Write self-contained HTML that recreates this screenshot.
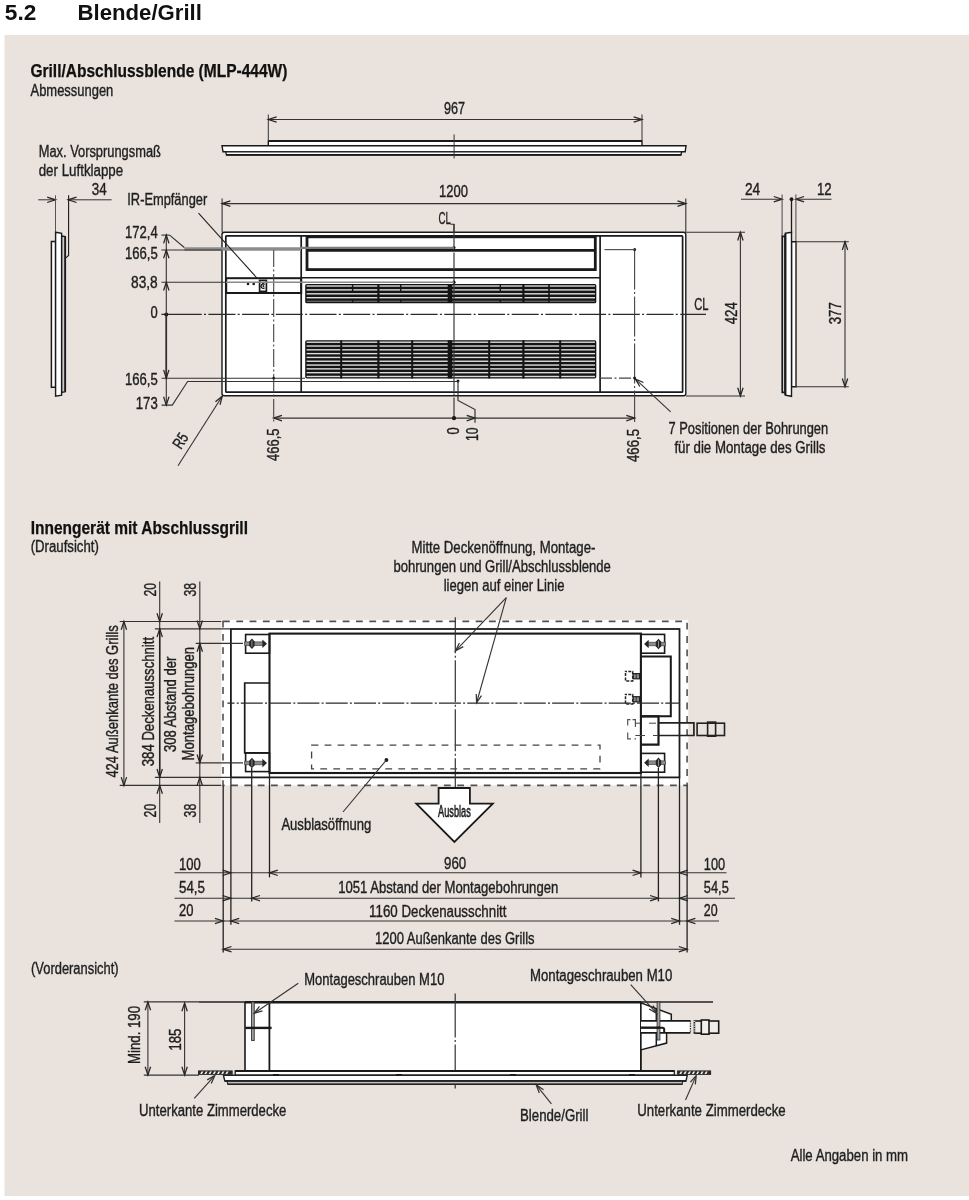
<!DOCTYPE html>
<html><head><meta charset="utf-8"><title>5.2 Blende/Grill</title>
<style>
html,body{margin:0;padding:0;background:#fff;}
body{width:969px;height:1200px;overflow:hidden;font-family:"Liberation Sans",sans-serif;}
svg{display:block;font-family:"Liberation Sans",sans-serif;will-change:transform;transform:translateZ(0);}
</style></head><body>
<svg width="969" height="1200" viewBox="0 0 969 1200">
<rect x="4.5" y="35" width="964.5" height="1161" fill="#e9e2dd"/>
<text x="4.8" y="20.2" font-size="22.5" font-weight="bold" textLength="31.5" lengthAdjust="spacingAndGlyphs" text-anchor="start" fill="#111">5.2</text>
<text x="77.6" y="20.2" font-size="22.5" font-weight="bold" textLength="124.3" lengthAdjust="spacingAndGlyphs" text-anchor="start" fill="#111">Blende/Grill</text>
<text x="30.4" y="76.6" font-size="17.6" font-weight="bold" textLength="257" lengthAdjust="spacingAndGlyphs" text-anchor="start" fill="#111" stroke="#111" stroke-width="0.25">Grill/Abschlussblende (MLP-444W)</text>
<text x="30.5" y="95.5" font-size="16" textLength="82.8" lengthAdjust="spacingAndGlyphs" text-anchor="start" fill="#1f1f1f" stroke="#1f1f1f" stroke-width="0.38">Abmessungen</text>
<polygon points="268.3,141.2 642,141.2 642,145.7 268.3,145.7" stroke="#1a1a1a" stroke-width="1.4" fill="#fff" />
<polygon points="222,145.7 686,145.7 685.2,151.8 223,151.8" stroke="#1a1a1a" stroke-width="1.4" fill="#fff" />
<polygon points="225.8,151.8 681.6,151.8 681,154.9 226.4,154.9" stroke="#1a1a1a" stroke-width="1.3" fill="#fff" />
<line x1="268.3" y1="141.0" x2="642" y2="141.0" stroke="#1a1a1a" stroke-width="1.8" />
<line x1="226" y1="154.9" x2="681.4" y2="154.9" stroke="#1a1a1a" stroke-width="1.6" />
<line x1="268.3" y1="114.5" x2="268.3" y2="141" stroke="#333" stroke-width="1" />
<line x1="642" y1="114.5" x2="642" y2="141" stroke="#333" stroke-width="1" />
<line x1="268.3" y1="119.5" x2="642" y2="119.5" stroke="#333" stroke-width="1" />
<polyline points="276.6,116.8 268.3,119.5 276.6,122.2" stroke="#262626" stroke-width="1.25" fill="none" stroke-linejoin="miter"/>
<polyline points="633.7,122.2 642,119.5 633.7,116.8" stroke="#262626" stroke-width="1.25" fill="none" stroke-linejoin="miter"/>
<text x="444" y="114.4" font-size="16" textLength="21" lengthAdjust="spacingAndGlyphs" text-anchor="start" fill="#1f1f1f" stroke="#1f1f1f" stroke-width="0.38">967</text>
<line x1="454.1" y1="134.4" x2="454.1" y2="158.4" stroke="#333" stroke-width="1" />
<text x="38.7" y="157" font-size="16" textLength="122.2" lengthAdjust="spacingAndGlyphs" text-anchor="start" fill="#1f1f1f" stroke="#1f1f1f" stroke-width="0.38">Max. Vorsprungsmaß</text>
<text x="38.7" y="175.5" font-size="16" textLength="84.5" lengthAdjust="spacingAndGlyphs" text-anchor="start" fill="#1f1f1f" stroke="#1f1f1f" stroke-width="0.38">der Luftklappe</text>
<text x="91.8" y="194.5" font-size="16" textLength="14.9" lengthAdjust="spacingAndGlyphs" text-anchor="start" fill="#1f1f1f" stroke="#1f1f1f" stroke-width="0.38">34</text>
<line x1="38.2" y1="199.8" x2="55.5" y2="199.8" stroke="#333" stroke-width="1" />
<line x1="68.2" y1="199.8" x2="111.6" y2="199.8" stroke="#333" stroke-width="1" />
<polyline points="47.2,202.5 55.5,199.8 47.2,197.1" stroke="#262626" stroke-width="1.25" fill="none" stroke-linejoin="miter"/>
<polyline points="76.5,197.1 68.2,199.8 76.5,202.5" stroke="#262626" stroke-width="1.25" fill="none" stroke-linejoin="miter"/>
<line x1="55.5" y1="195.3" x2="55.5" y2="232" stroke="#555" stroke-width="1" />
<polyline points="68.6,195.3 68.6,255.5 65.8,257.8" stroke="#1a1a1a" stroke-width="1.1" fill="none" />
<polygon points="51.4,241.6 55.6,241.6 55.6,387.2 51.4,387.2" stroke="#1a1a1a" stroke-width="1.5" fill="#fff" />
<polygon points="61.6,236 65.2,236.6 65.2,391.6 61.6,392.4" stroke="#1a1a1a" stroke-width="1.4" fill="#fafafa" />
<line x1="63.9" y1="237" x2="63.9" y2="391.5" stroke="#8a8a8a" stroke-width="0.7" />
<polygon points="55.6,232.3 61.6,233.4 61.6,395.2 55.6,396.2" stroke="#1a1a1a" stroke-width="1.4" fill="#fff" />
<line x1="65.2" y1="236.6" x2="65.2" y2="391.6" stroke="#1a1a1a" stroke-width="1.8" />
<text x="124.9" y="237.6" font-size="16" textLength="32.8" lengthAdjust="spacingAndGlyphs" text-anchor="start" fill="#1f1f1f" stroke="#1f1f1f" stroke-width="0.38">172,4</text>
<text x="124.9" y="259" font-size="16" textLength="32.8" lengthAdjust="spacingAndGlyphs" text-anchor="start" fill="#1f1f1f" stroke="#1f1f1f" stroke-width="0.38">166,5</text>
<text x="131" y="287.5" font-size="16" textLength="26.7" lengthAdjust="spacingAndGlyphs" text-anchor="start" fill="#1f1f1f" stroke="#1f1f1f" stroke-width="0.38">83,8</text>
<text x="150.5" y="318" font-size="16" textLength="7.2" lengthAdjust="spacingAndGlyphs" text-anchor="start" fill="#1f1f1f" stroke="#1f1f1f" stroke-width="0.38">0</text>
<text x="124.9" y="385.1" font-size="16" textLength="32.8" lengthAdjust="spacingAndGlyphs" text-anchor="start" fill="#1f1f1f" stroke="#1f1f1f" stroke-width="0.38">166,5</text>
<text x="135.8" y="409" font-size="16" textLength="21.9" lengthAdjust="spacingAndGlyphs" text-anchor="start" fill="#1f1f1f" stroke="#1f1f1f" stroke-width="0.38">173</text>
<rect x="222" y="232.3" width="463.8" height="163.5" rx="2.2" stroke="#1a1a1a" stroke-width="1.4" fill="#fff" />
<rect x="225.8" y="235.8" width="456.8" height="156.4" rx="0.8" stroke="#1a1a1a" stroke-width="1.7" fill="none" />
<line x1="301.2" y1="235.8" x2="301.2" y2="392.2" stroke="#1a1a1a" stroke-width="1.7" />
<line x1="600.1" y1="235.8" x2="600.1" y2="392.2" stroke="#1a1a1a" stroke-width="1.7" />
<rect x="307" y="236.8" width="288.3" height="32.8" rx="0" stroke="#1a1a1a" stroke-width="2.8" fill="none" />
<line x1="307" y1="250.4" x2="595.3" y2="250.4" stroke="#1a1a1a" stroke-width="2.6" />
<line x1="301.2" y1="277.8" x2="600.1" y2="277.8" stroke="#1a1a1a" stroke-width="1.6" />
<rect x="226.2" y="278.2" width="75" height="14.8" rx="0" stroke="#1a1a1a" stroke-width="2" fill="none" />
<circle cx="248" cy="283.9" r="1.3" fill="#1a1a1a"/>
<circle cx="253.7" cy="283.9" r="1.3" fill="#1a1a1a"/>
<rect x="259.6" y="280.4" width="6.8" height="11" rx="0" stroke="#1a1a1a" stroke-width="1.7" fill="#fff" />
<path d="M264.6,284.4 A2.2,2.2 0 1 0 264.6,287.8" stroke="#111" stroke-width="1.3" fill="none"/>
<circle cx="263.4" cy="286.1" r="1.0" fill="#1a1a1a"/>
<rect x="305.2" y="283.9" width="291.1" height="19.400000000000034" rx="1.6" stroke="none" stroke-width="0" fill="#141414" />
<rect x="306.6" y="285.30" width="288.4" height="1.4" fill="#dcdcdc"/>
<rect x="306.6" y="289.20" width="288.4" height="1.4" fill="#dcdcdc"/>
<rect x="306.6" y="293.10" width="288.4" height="1.4" fill="#dcdcdc"/>
<rect x="306.6" y="297.00" width="288.4" height="1.4" fill="#dcdcdc"/>
<rect x="306.6" y="300.60" width="288.4" height="1.4" fill="#606060"/>
<rect x="351.90" y="284" width="1.4" height="8" fill="#141414"/>
<rect x="351.90" y="299" width="1.4" height="4" fill="#141414"/>
<rect x="377.30" y="284" width="2.2" height="19" fill="#141414"/>
<rect x="400.00" y="284" width="1.4" height="8" fill="#141414"/>
<rect x="400.00" y="299" width="1.4" height="4" fill="#141414"/>
<rect x="447.70" y="284" width="4.6" height="19" fill="#141414"/>
<rect x="499.60" y="284" width="1.4" height="8" fill="#141414"/>
<rect x="499.60" y="299" width="1.4" height="4" fill="#141414"/>
<rect x="522.30" y="284" width="2.2" height="19" fill="#141414"/>
<rect x="548.20" y="284" width="1.6" height="19" fill="#141414"/>
<rect x="305.2" y="340.3" width="291.1" height="38.099999999999966" rx="1.6" stroke="none" stroke-width="0" fill="#141414" />
<rect x="306.6" y="341.50" width="288.4" height="1.4" fill="#dcdcdc"/>
<rect x="306.6" y="345.31" width="288.4" height="1.4" fill="#dcdcdc"/>
<rect x="306.6" y="349.12" width="288.4" height="1.4" fill="#dcdcdc"/>
<rect x="306.6" y="352.93" width="288.4" height="1.4" fill="#dcdcdc"/>
<rect x="306.6" y="356.74" width="288.4" height="1.4" fill="#dcdcdc"/>
<rect x="306.6" y="360.55" width="288.4" height="1.4" fill="#dcdcdc"/>
<rect x="306.6" y="364.36" width="288.4" height="1.4" fill="#dcdcdc"/>
<rect x="306.6" y="368.17" width="288.4" height="1.4" fill="#dcdcdc"/>
<rect x="306.6" y="371.98" width="288.4" height="1.4" fill="#dcdcdc"/>
<rect x="306.6" y="375.79" width="288.4" height="1.4" fill="#dcdcdc"/>
<rect x="340.20" y="340.3" width="2" height="38.099999999999966" fill="#141414"/>
<rect x="377.30" y="340.3" width="2.2" height="38.099999999999966" fill="#141414"/>
<rect x="411.20" y="340.3" width="2" height="38.099999999999966" fill="#141414"/>
<rect x="447.70" y="340.3" width="4.6" height="38.099999999999966" fill="#141414"/>
<rect x="488.20" y="340.3" width="2" height="38.099999999999966" fill="#141414"/>
<rect x="522.30" y="340.3" width="2.2" height="38.099999999999966" fill="#141414"/>
<rect x="559.20" y="340.3" width="2" height="38.099999999999966" fill="#141414"/>
<line x1="161.4" y1="314.4" x2="201.7" y2="314.4" stroke="#2a2a2a" stroke-width="1.1" />
<line x1="166.3" y1="314.4" x2="166.3" y2="378.2" stroke="#1a1a1a" stroke-width="1.6" />
<line x1="204" y1="314.4" x2="706" y2="314.4" stroke="#2a2a2a" stroke-width="1.1" stroke-dasharray="2 2.4 27 2.3"/>
<line x1="454" y1="224" x2="454" y2="418" stroke="#3a3a3a" stroke-width="1.2" stroke-dasharray="42 2.2 2 2.2" stroke-dashoffset="20"/>
<circle cx="166.3" cy="314.4" r="2.0" fill="#1a1a1a"/>
<line x1="273.7" y1="249" x2="273.7" y2="422" stroke="#444" stroke-width="1.1" stroke-dasharray="18 2.5 2 2.5"/>
<line x1="634.6" y1="249.6" x2="634.6" y2="422" stroke="#444" stroke-width="1.1" stroke-dasharray="40 2.5 2 2.5"/>
<circle cx="273.7" cy="249.4" r="1.4" fill="#1a1a1a"/>
<circle cx="273.7" cy="378.2" r="1.4" fill="#1a1a1a"/>
<circle cx="634.6" cy="249.6" r="1.5" fill="#1a1a1a"/>
<circle cx="634.6" cy="378.1" r="1.5" fill="#1a1a1a"/>
<circle cx="454" cy="247.5" r="1.5" fill="#1a1a1a"/>
<circle cx="454" cy="282.2" r="1.6" fill="#1a1a1a"/>
<circle cx="458" cy="381.1" r="1.5" fill="#1a1a1a"/>
<line x1="604.5" y1="249.6" x2="634.6" y2="249.6" stroke="#555" stroke-width="1.2" />
<line x1="600" y1="378.1" x2="634.6" y2="378.1" stroke="#444" stroke-width="1.1" stroke-dasharray="12 2.5 2 2.5"/>
<text x="438.6" y="223.8" font-size="16" textLength="12.4" lengthAdjust="spacingAndGlyphs" text-anchor="start" fill="#1f1f1f" stroke="#1f1f1f" stroke-width="0.38">CL</text>
<polyline points="450.5,224.2 454,224.2 454,232" stroke="#333" stroke-width="1.1" fill="none" />
<text x="694.2" y="310" font-size="16" textLength="14.3" lengthAdjust="spacingAndGlyphs" text-anchor="start" fill="#1f1f1f" stroke="#1f1f1f" stroke-width="0.38">CL</text>
<line x1="166.3" y1="235.1" x2="166.3" y2="405.1" stroke="#333" stroke-width="1.1" />
<line x1="184.3" y1="249" x2="301" y2="249" stroke="#8c8c8c" stroke-width="3.4" />
<line x1="301" y1="247.9" x2="454" y2="247.9" stroke="#7c7c7c" stroke-width="2.2" />
<line x1="161.4" y1="235.1" x2="169.6" y2="235.1" stroke="#333" stroke-width="1.1" />
<line x1="169.6" y1="235.1" x2="184.3" y2="247.5" stroke="#333" stroke-width="1.1" />
<line x1="161.4" y1="250" x2="222" y2="250" stroke="#333" stroke-width="1.1" />
<line x1="161.4" y1="282.2" x2="226" y2="282.2" stroke="#333" stroke-width="1.1" />
<line x1="226" y1="282.2" x2="454" y2="282.2" stroke="#8a8a8a" stroke-width="1.4" />
<line x1="161.6" y1="378.2" x2="305" y2="378.2" stroke="#333" stroke-width="1.1" />
<polyline points="161.6,405.1 172.3,405.1 187.6,381.5 458,381.5" stroke="#333" stroke-width="1.1" fill="none" />
<polyline points="169.0,243.4 166.3,235.1 163.6,243.4" stroke="#262626" stroke-width="1.25" fill="none" stroke-linejoin="miter"/>
<polyline points="169.0,258.3 166.3,250 163.6,258.3" stroke="#262626" stroke-width="1.25" fill="none" stroke-linejoin="miter"/>
<polyline points="169.0,290.5 166.3,282.2 163.6,290.5" stroke="#262626" stroke-width="1.25" fill="none" stroke-linejoin="miter"/>
<polyline points="163.6,369.9 166.3,378.2 169.0,369.9" stroke="#262626" stroke-width="1.25" fill="none" stroke-linejoin="miter"/>
<polyline points="163.6,396.8 166.3,405.1 169.0,396.8" stroke="#262626" stroke-width="1.25" fill="none" stroke-linejoin="miter"/>
<text x="127.3" y="205.4" font-size="16" textLength="79.9" lengthAdjust="spacingAndGlyphs" text-anchor="start" fill="#1f1f1f" stroke="#1f1f1f" stroke-width="0.38">IR-Empfänger</text>
<line x1="198.5" y1="213.2" x2="256.8" y2="277.8" stroke="#222" stroke-width="1.1" />
<line x1="178" y1="465.7" x2="222.2" y2="396.3" stroke="#333" stroke-width="1.1" />
<polyline points="220.02,404.75 222.2,396.3 215.46,401.85" stroke="#262626" stroke-width="1.25" fill="none" stroke-linejoin="miter"/>
<text font-size="16" fill="#1f1f1f" stroke="#1f1f1f" stroke-width="0.38" textLength="15" lengthAdjust="spacingAndGlyphs" transform="translate(180.9,450) rotate(-57.5)">R5</text>
<line x1="273.7" y1="418.1" x2="634.6" y2="418.1" stroke="#333" stroke-width="1.1" />
<polyline points="282.0,415.4 273.7,418.1 282.0,420.8" stroke="#262626" stroke-width="1.25" fill="none" stroke-linejoin="miter"/>
<polyline points="626.3,420.8 634.6,418.1 626.3,415.4" stroke="#262626" stroke-width="1.25" fill="none" stroke-linejoin="miter"/>
<polyline points="466.7,420.8 475,418.1 466.7,415.4" stroke="#262626" stroke-width="1.25" fill="none" stroke-linejoin="miter"/>
<circle cx="454" cy="418.1" r="2.2" fill="#1a1a1a"/>
<polyline points="458,381.1 458,400.5 475,409.5 475,422.7" stroke="#333" stroke-width="1.2" fill="none" />
<text font-size="16" fill="#1f1f1f" stroke="#1f1f1f" stroke-width="0.38" textLength="32.5" lengthAdjust="spacingAndGlyphs" transform="translate(279,461) rotate(-90)">466,5</text>
<text font-size="16" fill="#1f1f1f" stroke="#1f1f1f" stroke-width="0.38" textLength="7.2" lengthAdjust="spacingAndGlyphs" transform="translate(459.2,434.4) rotate(-90)">0</text>
<text font-size="16" fill="#1f1f1f" stroke="#1f1f1f" stroke-width="0.38" textLength="13.6" lengthAdjust="spacingAndGlyphs" transform="translate(478.2,441) rotate(-90)">10</text>
<text font-size="16" fill="#1f1f1f" stroke="#1f1f1f" stroke-width="0.38" textLength="33" lengthAdjust="spacingAndGlyphs" transform="translate(639.3,462) rotate(-90)">466,5</text>
<line x1="670.7" y1="411.8" x2="636" y2="379.6" stroke="#333" stroke-width="1.1" />
<polyline points="643.41,382.48 635.4,379 639.83,386.52" stroke="#262626" stroke-width="1.25" fill="none" stroke-linejoin="miter"/>
<text x="668.5" y="433.8" font-size="16" textLength="159.7" lengthAdjust="spacingAndGlyphs" text-anchor="start" fill="#1f1f1f" stroke="#1f1f1f" stroke-width="0.38">7 Positionen der Bohrungen</text>
<text x="674.4" y="452.6" font-size="16" textLength="151.1" lengthAdjust="spacingAndGlyphs" text-anchor="start" fill="#1f1f1f" stroke="#1f1f1f" stroke-width="0.38">für die Montage des Grills</text>
<line x1="222.1" y1="198.6" x2="222.1" y2="232" stroke="#333" stroke-width="1.1" />
<line x1="685.8" y1="198.6" x2="685.8" y2="232" stroke="#333" stroke-width="1.1" />
<line x1="222.1" y1="203.6" x2="685.8" y2="203.6" stroke="#333" stroke-width="1.1" />
<polyline points="230.4,200.9 222.1,203.6 230.4,206.3" stroke="#262626" stroke-width="1.25" fill="none" stroke-linejoin="miter"/>
<polyline points="677.5,206.3 685.8,203.6 677.5,200.9" stroke="#262626" stroke-width="1.25" fill="none" stroke-linejoin="miter"/>
<text x="439" y="197.2" font-size="16" textLength="28.9" lengthAdjust="spacingAndGlyphs" text-anchor="start" fill="#1f1f1f" stroke="#1f1f1f" stroke-width="0.38">1200</text>
<line x1="686" y1="232.2" x2="745" y2="232.2" stroke="#333" stroke-width="1.1" />
<line x1="686" y1="396" x2="745" y2="396" stroke="#333" stroke-width="1.1" />
<line x1="740.4" y1="232.2" x2="740.4" y2="396" stroke="#333" stroke-width="1.1" />
<polyline points="743.1,240.5 740.4,232.2 737.7,240.5" stroke="#262626" stroke-width="1.25" fill="none" stroke-linejoin="miter"/>
<polyline points="737.7,387.7 740.4,396 743.1,387.7" stroke="#262626" stroke-width="1.25" fill="none" stroke-linejoin="miter"/>
<text font-size="16" fill="#1f1f1f" stroke="#1f1f1f" stroke-width="0.38" textLength="21.9" lengthAdjust="spacingAndGlyphs" transform="translate(736.6,324.2) rotate(-90)">424</text>
<text x="745" y="195" font-size="16" textLength="15.2" lengthAdjust="spacingAndGlyphs" text-anchor="start" fill="#1f1f1f" stroke="#1f1f1f" stroke-width="0.38">24</text>
<text x="817" y="195" font-size="16" textLength="14.7" lengthAdjust="spacingAndGlyphs" text-anchor="start" fill="#1f1f1f" stroke="#1f1f1f" stroke-width="0.38">12</text>
<line x1="741" y1="199.2" x2="782.1" y2="199.2" stroke="#333" stroke-width="1.1" />
<line x1="795.6" y1="199.2" x2="831.5" y2="199.2" stroke="#333" stroke-width="1.1" />
<polyline points="773.8,201.9 782.1,199.2 773.8,196.5" stroke="#262626" stroke-width="1.25" fill="none" stroke-linejoin="miter"/>
<polyline points="804.1,196.5 795.8,199.2 804.1,201.9" stroke="#262626" stroke-width="1.25" fill="none" stroke-linejoin="miter"/>
<line x1="782.1" y1="194.6" x2="782.1" y2="236.2" stroke="#555" stroke-width="1.1" />
<line x1="795.9" y1="194.6" x2="795.9" y2="241.7" stroke="#555" stroke-width="1.1" />
<polygon points="782.3,236.4 785.3,236.4 785.3,392.4 782.3,392.4" stroke="#1a1a1a" stroke-width="1.8" fill="#fff" />
<polygon points="791.5,241.7 796,241.7 796,386.8 791.5,386.8" stroke="#1a1a1a" stroke-width="1.4" fill="#fff" />
<polygon points="785.3,233.3 791.5,232.4 791.5,396.3 785.3,395.2" stroke="#1a1a1a" stroke-width="1.4" fill="#fff" />
<line x1="785.4" y1="234" x2="785.4" y2="395" stroke="#1a1a1a" stroke-width="2.1" />
<line x1="791.5" y1="199.2" x2="791.5" y2="233" stroke="#1a1a1a" stroke-width="1.3" />
<circle cx="791.5" cy="199.2" r="1.9" fill="#1a1a1a"/>
<line x1="796" y1="241.7" x2="848.8" y2="241.7" stroke="#333" stroke-width="1.1" />
<line x1="796" y1="386.8" x2="848.8" y2="386.8" stroke="#333" stroke-width="1.1" />
<line x1="845" y1="241.7" x2="845" y2="386.8" stroke="#333" stroke-width="1.1" />
<polyline points="847.7,250.0 845,241.7 842.3,250.0" stroke="#262626" stroke-width="1.25" fill="none" stroke-linejoin="miter"/>
<polyline points="842.3,378.5 845,386.8 847.7,378.5" stroke="#262626" stroke-width="1.25" fill="none" stroke-linejoin="miter"/>
<text font-size="16" fill="#1f1f1f" stroke="#1f1f1f" stroke-width="0.38" textLength="21.9" lengthAdjust="spacingAndGlyphs" transform="translate(841.4,324.2) rotate(-90)">377</text>
<text x="30.7" y="534" font-size="17.6" font-weight="bold" textLength="217.3" lengthAdjust="spacingAndGlyphs" text-anchor="start" fill="#111" stroke="#111" stroke-width="0.25">Innengerät mit Abschlussgrill</text>
<text x="30.7" y="551.8" font-size="16" textLength="68.1" lengthAdjust="spacingAndGlyphs" text-anchor="start" fill="#1f1f1f" stroke="#1f1f1f" stroke-width="0.38">(Draufsicht)</text>
<text x="411.5" y="552.7" font-size="16" textLength="183.9" lengthAdjust="spacingAndGlyphs" text-anchor="start" fill="#1f1f1f" stroke="#1f1f1f" stroke-width="0.38">Mitte Deckenöffnung, Montage-</text>
<text x="393.4" y="571.8" font-size="16" textLength="217.5" lengthAdjust="spacingAndGlyphs" text-anchor="start" fill="#1f1f1f" stroke="#1f1f1f" stroke-width="0.38">bohrungen und Grill/Abschlussblende</text>
<text x="443.7" y="590.6" font-size="16" textLength="120.8" lengthAdjust="spacingAndGlyphs" text-anchor="start" fill="#1f1f1f" stroke="#1f1f1f" stroke-width="0.38">liegen auf einer Linie</text>
<rect x="221.3" y="619.8" width="467" height="165.6" fill="#fff"/>
<rect x="223" y="621.4" width="464.1" height="164" rx="0" stroke="#505050" stroke-width="1.6" fill="none" stroke-dasharray="6.8 6.5"/>
<rect x="230.9" y="629" width="448.6" height="148.4" rx="0" stroke="#1c1c1c" stroke-width="1.8" fill="none" />
<rect x="269.5" y="633.6" width="371.4" height="139.4" rx="0" stroke="#1a1a1a" stroke-width="2.1" fill="none" />
<rect x="245.6" y="634.5" width="23.9" height="18.7" rx="0" stroke="#1a1a1a" stroke-width="1.6" fill="none" />
<rect x="245.6" y="752.9" width="23.9" height="18.7" rx="0" stroke="#1a1a1a" stroke-width="1.6" fill="none" />
<rect x="640.9" y="634.4" width="23.7" height="18.8" rx="0" stroke="#1a1a1a" stroke-width="1.6" fill="none" />
<rect x="640.9" y="753.4" width="23.7" height="18.8" rx="0" stroke="#1a1a1a" stroke-width="1.6" fill="none" />
<polyline points="269.5,683 244.7,683 244.7,752.8 269.5,752.8" stroke="#1a1a1a" stroke-width="1.7" fill="none" />
<polyline points="640.9,656.5 670.8,656.5 670.8,716.3 640.9,716.3" stroke="#1a1a1a" stroke-width="2" fill="none" />
<polyline points="640.9,716.3 658.5,716.3 658.5,744.6 640.9,744.6" stroke="#1a1a1a" stroke-width="2.2" fill="none" />
<rect x="244.7" y="641.9000000000001" width="19.30000000000001" height="3.6" fill="#8c8c8c" stroke="#444" stroke-width="0.7"/>
<polygon points="251.9,638.4000000000001 254.6,641.4000000000001 254.6,646.0 251.9,649.0 249.20000000000002,646.0 249.20000000000002,641.4000000000001" fill="#262626"/>
<rect x="251.45000000000002" y="640.5" width="0.9" height="6.4" fill="#9a9a9a"/>
<polygon points="267,643.7 262.4,639.5 262.4,647.9000000000001" fill="#262626"/>
<rect x="244.7" y="761.2" width="19.30000000000001" height="3.6" fill="#8c8c8c" stroke="#444" stroke-width="0.7"/>
<polygon points="251.9,757.7 254.6,760.7 254.6,765.3 251.9,768.3 249.20000000000002,765.3 249.20000000000002,760.7" fill="#262626"/>
<rect x="251.45000000000002" y="759.8" width="0.9" height="6.4" fill="#9a9a9a"/>
<polygon points="267,763 262.4,758.8 262.4,767.2" fill="#262626"/>
<rect x="647.1" y="642.2" width="18.399999999999977" height="3.6" fill="#8c8c8c" stroke="#444" stroke-width="0.7"/>
<polygon points="658.5,638.7 661.2,641.7 661.2,646.3 658.5,649.3 655.8,646.3 655.8,641.7" fill="#262626"/>
<rect x="658.05" y="640.8" width="0.9" height="6.4" fill="#9a9a9a"/>
<polygon points="644.1,644 648.7,639.8 648.7,648.2" fill="#262626"/>
<rect x="647.1" y="760.9000000000001" width="18.399999999999977" height="3.6" fill="#8c8c8c" stroke="#444" stroke-width="0.7"/>
<polygon points="658.5,757.4000000000001 661.2,760.4000000000001 661.2,765.0 658.5,768.0 655.8,765.0 655.8,760.4000000000001" fill="#262626"/>
<rect x="658.05" y="759.5" width="0.9" height="6.4" fill="#9a9a9a"/>
<polygon points="644.1,762.7 648.7,758.5 648.7,766.9000000000001" fill="#262626"/>
<rect x="625.5" y="671.5" width="7.2" height="9.4" rx="0" stroke="#222" stroke-width="1.5" fill="none" stroke-dasharray="3 1.3" stroke-dashoffset="1.5"/>
<rect x="633.2" y="673.6" width="6.4" height="5.2" rx="0" stroke="#222" stroke-width="1.2" fill="#8a8a8a" />
<line x1="636.2" y1="673.6" x2="636.2" y2="678.8000000000001" stroke="#222" stroke-width="0.8" />
<rect x="625.5" y="694.5999999999999" width="7.2" height="9.4" rx="0" stroke="#222" stroke-width="1.5" fill="none" stroke-dasharray="3 1.3" stroke-dashoffset="1.5"/>
<rect x="633.2" y="696.6999999999999" width="6.4" height="5.2" rx="0" stroke="#222" stroke-width="1.2" fill="#8a8a8a" />
<line x1="636.2" y1="696.6999999999999" x2="636.2" y2="701.9" stroke="#222" stroke-width="0.8" />
<polyline points="630.5,719.6 627.7,719.6 627.7,725.5" stroke="#555" stroke-width="1.2" fill="none" />
<polyline points="632.5,719.6 635.4,719.6 635.4,727" stroke="#555" stroke-width="1.2" fill="none" />
<polyline points="627.7,732.5 627.7,738.8 631,738.8" stroke="#555" stroke-width="1.2" fill="none" />
<line x1="634.5" y1="738.8" x2="636" y2="738.8" stroke="#555" stroke-width="1.2" />
<line x1="635.4" y1="723.2" x2="640" y2="723.2" stroke="#444" stroke-width="1" />
<line x1="635.4" y1="735.5" x2="645" y2="735.5" stroke="#444" stroke-width="1" />
<line x1="649" y1="723.2" x2="656" y2="723.2" stroke="#444" stroke-width="1" />
<line x1="653" y1="735.5" x2="658" y2="735.5" stroke="#444" stroke-width="1" />
<polyline points="658.5,722.9 693.9,722.9 693.9,735.5 658.5,735.5" stroke="#222" stroke-width="1.7" fill="none" />
<rect x="697.1" y="723.2" width="27.4" height="12.3" rx="0" stroke="#222" stroke-width="1.6" fill="none" />
<rect x="707.6" y="722.1" width="8" height="14.1" rx="0" stroke="#222" stroke-width="1.6" fill="none" />
<line x1="227.4" y1="703.1" x2="680" y2="703.1" stroke="#2a2a2a" stroke-width="1.1" stroke-dasharray="22 2.2 2 2.1" stroke-dashoffset="14.9"/>
<line x1="455.3" y1="617.2" x2="455.3" y2="787" stroke="#333" stroke-width="1.2" stroke-dasharray="42 2.5 2 2.5" stroke-dashoffset="6"/>
<line x1="450.7" y1="773" x2="459.6" y2="773" stroke="#1a1a1a" stroke-width="2.2" />
<rect x="311.6" y="745.2" width="288.4" height="23.7" rx="0" stroke="#444" stroke-width="1.3" fill="none" stroke-dasharray="6.8 6.2"/>
<circle cx="386.4" cy="760" r="1.9" fill="#1a1a1a"/>
<line x1="343" y1="812" x2="386.4" y2="760" stroke="#333" stroke-width="1.1" />
<text x="281.4" y="829.7" font-size="16" textLength="89.8" lengthAdjust="spacingAndGlyphs" text-anchor="start" fill="#1f1f1f" stroke="#1f1f1f" stroke-width="0.38">Ausblasöffnung</text>
<line x1="506.3" y1="597.7" x2="456.2" y2="650.2" stroke="#333" stroke-width="1.1" />
<polyline points="459.38,642.93 455.6,650.8 463.29,646.66" stroke="#333" stroke-width="1.25" fill="none" stroke-linejoin="miter"/>
<line x1="506.3" y1="597.7" x2="476.8" y2="702" stroke="#333" stroke-width="1.1" />
<polyline points="476.26,694.08 476.6,702.8 481.46,695.55" stroke="#333" stroke-width="1.25" fill="none" stroke-linejoin="miter"/>
<polygon points="438.6,788 469.9,788 469.9,803.7 492.8,803.7 454.4,842 416.3,803.7 438.6,803.7" stroke="#1a1a1a" stroke-width="1.8" fill="#fff" stroke-linejoin="miter"/>
<text x="438.1" y="816.7" font-size="16" textLength="32.7" lengthAdjust="spacingAndGlyphs" text-anchor="start" fill="#1f1f1f" stroke="#1f1f1f" stroke-width="0.6">Ausblas</text>
<line x1="119.7" y1="621.5" x2="221.3" y2="621.5" stroke="#333" stroke-width="1.2" />
<line x1="119.7" y1="785.4" x2="221.3" y2="785.4" stroke="#333" stroke-width="1.2" />
<line x1="154.9" y1="628.8" x2="231" y2="628.8" stroke="#333" stroke-width="1.2" />
<line x1="154.9" y1="777.3" x2="231" y2="777.3" stroke="#333" stroke-width="1.2" />
<line x1="195.7" y1="643.4" x2="243" y2="643.4" stroke="#333" stroke-width="1.2" />
<line x1="195.7" y1="762.8" x2="243" y2="762.8" stroke="#333" stroke-width="1.2" />
<line x1="123.9" y1="621.5" x2="123.9" y2="785.4" stroke="#333" stroke-width="1.1" />
<polyline points="126.6,629.8 123.9,621.5 121.2,629.8" stroke="#262626" stroke-width="1.25" fill="none" stroke-linejoin="miter"/>
<polyline points="121.2,777.1 123.9,785.4 126.6,777.1" stroke="#262626" stroke-width="1.25" fill="none" stroke-linejoin="miter"/>
<line x1="159.7" y1="581.6" x2="159.7" y2="823" stroke="#333" stroke-width="1.1" />
<line x1="159.7" y1="628.8" x2="159.7" y2="777.3" stroke="#222" stroke-width="1.5" />
<polyline points="157.0,613.2 159.7,621.5 162.4,613.2" stroke="#262626" stroke-width="1.25" fill="none" stroke-linejoin="miter"/>
<polyline points="162.4,637.1 159.7,628.8 157.0,637.1" stroke="#262626" stroke-width="1.25" fill="none" stroke-linejoin="miter"/>
<polyline points="157.0,769.0 159.7,777.3 162.4,769.0" stroke="#262626" stroke-width="1.25" fill="none" stroke-linejoin="miter"/>
<polyline points="162.4,793.7 159.7,785.4 157.0,793.7" stroke="#262626" stroke-width="1.25" fill="none" stroke-linejoin="miter"/>
<line x1="199.8" y1="581.6" x2="199.8" y2="823" stroke="#333" stroke-width="1.1" />
<line x1="199.8" y1="643.4" x2="199.8" y2="762.8" stroke="#222" stroke-width="1.4" />
<polyline points="197.1,620.5 199.8,628.8 202.5,620.5" stroke="#262626" stroke-width="1.25" fill="none" stroke-linejoin="miter"/>
<polyline points="202.5,651.7 199.8,643.4 197.1,651.7" stroke="#262626" stroke-width="1.25" fill="none" stroke-linejoin="miter"/>
<polyline points="197.1,754.5 199.8,762.8 202.5,754.5" stroke="#262626" stroke-width="1.25" fill="none" stroke-linejoin="miter"/>
<polyline points="202.5,785.6 199.8,777.3 197.1,785.6" stroke="#262626" stroke-width="1.25" fill="none" stroke-linejoin="miter"/>
<text font-size="16" fill="#1f1f1f" stroke="#1f1f1f" stroke-width="0.38" textLength="13.6" lengthAdjust="spacingAndGlyphs" transform="translate(156,596.6) rotate(-90)">20</text>
<text font-size="16" fill="#1f1f1f" stroke="#1f1f1f" stroke-width="0.38" textLength="13.6" lengthAdjust="spacingAndGlyphs" transform="translate(196.2,596.6) rotate(-90)">38</text>
<text font-size="16" fill="#1f1f1f" stroke="#1f1f1f" stroke-width="0.38" textLength="13.6" lengthAdjust="spacingAndGlyphs" transform="translate(156,817.4) rotate(-90)">20</text>
<text font-size="16" fill="#1f1f1f" stroke="#1f1f1f" stroke-width="0.38" textLength="13.6" lengthAdjust="spacingAndGlyphs" transform="translate(196.2,817.4) rotate(-90)">38</text>
<text font-size="16" fill="#1f1f1f" stroke="#1f1f1f" stroke-width="0.38" textLength="152.3" lengthAdjust="spacingAndGlyphs" transform="translate(118.1,777.6) rotate(-90)">424 Außenkante des Grills</text>
<text font-size="16" fill="#1f1f1f" stroke="#1f1f1f" stroke-width="0.38" textLength="129.3" lengthAdjust="spacingAndGlyphs" transform="translate(154.2,766.2) rotate(-90)">384 Deckenausschnitt</text>
<text font-size="16" fill="#1f1f1f" stroke="#1f1f1f" stroke-width="0.38" textLength="95.3" lengthAdjust="spacingAndGlyphs" transform="translate(175.6,752) rotate(-90)">308 Abstand der</text>
<text font-size="16" fill="#1f1f1f" stroke="#1f1f1f" stroke-width="0.38" textLength="113.4" lengthAdjust="spacingAndGlyphs" transform="translate(194.4,760.4) rotate(-90)">Montagebohrungen</text>
<line x1="223.2" y1="785.4" x2="223.2" y2="952.6" stroke="#222" stroke-width="1.3" />
<line x1="230.9" y1="777.4" x2="230.9" y2="924.8" stroke="#222" stroke-width="1.3" />
<line x1="251.7" y1="768" x2="251.7" y2="901.4" stroke="#222" stroke-width="1.3" />
<line x1="269.5" y1="773" x2="269.5" y2="877.4" stroke="#222" stroke-width="1.3" />
<line x1="640.9" y1="773" x2="640.9" y2="877.4" stroke="#222" stroke-width="1.3" />
<line x1="658.4" y1="768" x2="658.4" y2="901.4" stroke="#222" stroke-width="1.3" />
<line x1="679.5" y1="777.4" x2="679.5" y2="924.8" stroke="#222" stroke-width="1.3" />
<line x1="687.1" y1="785.4" x2="687.1" y2="952.6" stroke="#222" stroke-width="1.3" />
<line x1="174.5" y1="872.8" x2="726.5" y2="872.8" stroke="#333" stroke-width="1.1" />
<line x1="174.5" y1="898.2" x2="735" y2="898.2" stroke="#333" stroke-width="1.1" />
<line x1="174.5" y1="921" x2="719" y2="921" stroke="#333" stroke-width="1.1" />
<line x1="223.2" y1="949.2" x2="687.1" y2="949.2" stroke="#333" stroke-width="1.1" />
<polyline points="222.6,875.5 230.9,872.8 222.6,870.1" stroke="#262626" stroke-width="1.25" fill="none" stroke-linejoin="miter"/>
<polyline points="277.8,870.1 269.5,872.8 277.8,875.5" stroke="#262626" stroke-width="1.25" fill="none" stroke-linejoin="miter"/>
<polyline points="632.6,875.5 640.9,872.8 632.6,870.1" stroke="#262626" stroke-width="1.25" fill="none" stroke-linejoin="miter"/>
<polyline points="687.8,870.1 679.5,872.8 687.8,875.5" stroke="#262626" stroke-width="1.25" fill="none" stroke-linejoin="miter"/>
<polyline points="222.6,900.9 230.9,898.2 222.6,895.5" stroke="#262626" stroke-width="1.25" fill="none" stroke-linejoin="miter"/>
<polyline points="260.0,895.5 251.7,898.2 260.0,900.9" stroke="#262626" stroke-width="1.25" fill="none" stroke-linejoin="miter"/>
<polyline points="650.1,900.9 658.4,898.2 650.1,895.5" stroke="#262626" stroke-width="1.25" fill="none" stroke-linejoin="miter"/>
<polyline points="687.8,895.5 679.5,898.2 687.8,900.9" stroke="#262626" stroke-width="1.25" fill="none" stroke-linejoin="miter"/>
<polyline points="214.9,923.7 223.2,921 214.9,918.3" stroke="#262626" stroke-width="1.25" fill="none" stroke-linejoin="miter"/>
<polyline points="239.2,918.3 230.9,921 239.2,923.7" stroke="#262626" stroke-width="1.25" fill="none" stroke-linejoin="miter"/>
<polyline points="671.2,923.7 679.5,921 671.2,918.3" stroke="#262626" stroke-width="1.25" fill="none" stroke-linejoin="miter"/>
<polyline points="695.4,918.3 687.1,921 695.4,923.7" stroke="#262626" stroke-width="1.25" fill="none" stroke-linejoin="miter"/>
<polyline points="231.5,946.5 223.2,949.2 231.5,951.9" stroke="#262626" stroke-width="1.25" fill="none" stroke-linejoin="miter"/>
<polyline points="678.8,951.9 687.1,949.2 678.8,946.5" stroke="#262626" stroke-width="1.25" fill="none" stroke-linejoin="miter"/>
<text x="179" y="870.4" font-size="16" textLength="21.8" lengthAdjust="spacingAndGlyphs" text-anchor="start" fill="#1f1f1f" stroke="#1f1f1f" stroke-width="0.38">100</text>
<text x="179" y="892.9" font-size="16" textLength="26" lengthAdjust="spacingAndGlyphs" text-anchor="start" fill="#1f1f1f" stroke="#1f1f1f" stroke-width="0.38">54,5</text>
<text x="179" y="916.3" font-size="16" textLength="14.4" lengthAdjust="spacingAndGlyphs" text-anchor="start" fill="#1f1f1f" stroke="#1f1f1f" stroke-width="0.38">20</text>
<text x="703.8" y="870.4" font-size="16" textLength="21.3" lengthAdjust="spacingAndGlyphs" text-anchor="start" fill="#1f1f1f" stroke="#1f1f1f" stroke-width="0.38">100</text>
<text x="703.8" y="892.9" font-size="16" textLength="25" lengthAdjust="spacingAndGlyphs" text-anchor="start" fill="#1f1f1f" stroke="#1f1f1f" stroke-width="0.38">54,5</text>
<text x="703.8" y="916.3" font-size="16" textLength="13.8" lengthAdjust="spacingAndGlyphs" text-anchor="start" fill="#1f1f1f" stroke="#1f1f1f" stroke-width="0.38">20</text>
<text x="444" y="869.4" font-size="16" textLength="22.2" lengthAdjust="spacingAndGlyphs" text-anchor="start" fill="#1f1f1f" stroke="#1f1f1f" stroke-width="0.38">960</text>
<text x="338.2" y="892.9" font-size="16" textLength="220.1" lengthAdjust="spacingAndGlyphs" text-anchor="start" fill="#1f1f1f" stroke="#1f1f1f" stroke-width="0.38">1051 Abstand der Montagebohrungen</text>
<text x="369.1" y="916.5" font-size="16" textLength="137.4" lengthAdjust="spacingAndGlyphs" text-anchor="start" fill="#1f1f1f" stroke="#1f1f1f" stroke-width="0.38">1160 Deckenausschnitt</text>
<text x="375" y="943.5" font-size="16" textLength="159.6" lengthAdjust="spacingAndGlyphs" text-anchor="start" fill="#1f1f1f" stroke="#1f1f1f" stroke-width="0.38">1200 Außenkante des Grills</text>
<text x="31" y="974" font-size="16" textLength="87.6" lengthAdjust="spacingAndGlyphs" text-anchor="start" fill="#1f1f1f" stroke="#1f1f1f" stroke-width="0.38">(Vorderansicht)</text>
<text x="304.3" y="985" font-size="16" textLength="140.1" lengthAdjust="spacingAndGlyphs" text-anchor="start" fill="#1f1f1f" stroke="#1f1f1f" stroke-width="0.38">Montageschrauben M10</text>
<text x="530" y="981" font-size="16" textLength="142.3" lengthAdjust="spacingAndGlyphs" text-anchor="start" fill="#1f1f1f" stroke="#1f1f1f" stroke-width="0.38">Montageschrauben M10</text>
<text x="139.1" y="1116.2" font-size="16" textLength="147.2" lengthAdjust="spacingAndGlyphs" text-anchor="start" fill="#1f1f1f" stroke="#1f1f1f" stroke-width="0.38">Unterkante Zimmerdecke</text>
<text x="637.3" y="1116.3" font-size="16" textLength="148.4" lengthAdjust="spacingAndGlyphs" text-anchor="start" fill="#1f1f1f" stroke="#1f1f1f" stroke-width="0.38">Unterkante Zimmerdecke</text>
<text x="520" y="1121.3" font-size="16" textLength="68.4" lengthAdjust="spacingAndGlyphs" text-anchor="start" fill="#1f1f1f" stroke="#1f1f1f" stroke-width="0.38">Blende/Grill</text>
<text x="790.7" y="1160.8" font-size="16" textLength="117.4" lengthAdjust="spacingAndGlyphs" text-anchor="start" fill="#1f1f1f" stroke="#1f1f1f" stroke-width="0.38">Alle Angaben in mm</text>
<line x1="143.8" y1="1001.9" x2="199" y2="1001.9" stroke="#333" stroke-width="1.1" />
<line x1="143.8" y1="1075.1" x2="199" y2="1075.1" stroke="#333" stroke-width="1.1" />
<line x1="147.9" y1="1001.9" x2="147.9" y2="1075.1" stroke="#333" stroke-width="1.1" />
<polyline points="150.6,1010.2 147.9,1001.9 145.2,1010.2" stroke="#262626" stroke-width="1.25" fill="none" stroke-linejoin="miter"/>
<polyline points="145.2,1066.8 147.9,1075.1 150.6,1066.8" stroke="#262626" stroke-width="1.25" fill="none" stroke-linejoin="miter"/>
<line x1="184.6" y1="1003" x2="184.6" y2="1075.1" stroke="#333" stroke-width="1.1" />
<polyline points="187.3,1011.3 184.6,1003 181.9,1011.3" stroke="#262626" stroke-width="1.25" fill="none" stroke-linejoin="miter"/>
<polyline points="181.9,1066.8 184.6,1075.1 187.3,1066.8" stroke="#262626" stroke-width="1.25" fill="none" stroke-linejoin="miter"/>
<text font-size="16" fill="#1f1f1f" stroke="#1f1f1f" stroke-width="0.38" textLength="58" lengthAdjust="spacingAndGlyphs" transform="translate(139.5,1064) rotate(-90)">Mind. 190</text>
<text font-size="16" fill="#1f1f1f" stroke="#1f1f1f" stroke-width="0.38" textLength="21.9" lengthAdjust="spacingAndGlyphs" transform="translate(180.9,1050.6) rotate(-90)">185</text>
<line x1="199" y1="1002" x2="713" y2="1002" stroke="#222" stroke-width="1.5" />
<rect x="245" y="1002" width="396" height="69" fill="#fff"/>
<line x1="245" y1="1002.2" x2="641" y2="1002.2" stroke="#1a1a1a" stroke-width="2.6" />
<line x1="245" y1="1002" x2="245" y2="1071" stroke="#1a1a1a" stroke-width="1.6" />
<line x1="269.4" y1="1002" x2="269.4" y2="1071" stroke="#1a1a1a" stroke-width="1.8" />
<line x1="640.9" y1="1002" x2="640.9" y2="1071" stroke="#1a1a1a" stroke-width="1.8" />
<rect x="251.6" y="1002" width="2.6" height="38.4" rx="0" stroke="#333" stroke-width="1" fill="#aaa" />
<line x1="245.4" y1="1027.9" x2="271.6" y2="1027.9" stroke="#1a1a1a" stroke-width="2.4" />
<line x1="298.3" y1="983.3" x2="255" y2="1012.8" stroke="#333" stroke-width="1.1" />
<polyline points="259.44,1006.49 254.1,1013.4 262.48,1010.95" stroke="#333" stroke-width="1.25" fill="none" stroke-linejoin="miter"/>
<polygon points="640.9,1002.9 671.3,1014.3 671.3,1021 666.6,1033 666.6,1043.1 640.9,1049.9" stroke="#1a1a1a" stroke-width="1.5" fill="#fff" />
<line x1="656.3" y1="1008.6" x2="656.3" y2="1046" stroke="#1a1a1a" stroke-width="1.5" />
<rect x="641" y="1020.8" width="49.4" height="12" fill="#fff"/>
<line x1="640.9" y1="1020.8" x2="690.4" y2="1020.8" stroke="#1a1a1a" stroke-width="1.8" />
<line x1="640.9" y1="1032.9" x2="690.4" y2="1032.9" stroke="#1a1a1a" stroke-width="1.8" />
<line x1="690.4" y1="1020.8" x2="690.4" y2="1033" stroke="#333" stroke-width="1.3" stroke-dasharray="1.4 1"/>
<rect x="694.4" y="1021" width="24.3" height="12.2" rx="0" stroke="#1a1a1a" stroke-width="1.6" fill="#f1ece8" />
<line x1="694.4" y1="1021" x2="694.4" y2="1033.2" stroke="#e9e2dd" stroke-width="1.8" stroke-dasharray="1 1.4"/>
<rect x="701.3" y="1020" width="7.7" height="14.2" rx="0" stroke="#1a1a1a" stroke-width="1.6" fill="#f4f0ec" />
<rect x="657.1" y="1002" width="2.8" height="38" rx="0" stroke="#333" stroke-width="0.9" fill="#a8a8a8" />
<line x1="640.9" y1="1027.7" x2="660" y2="1027.7" stroke="#1a1a1a" stroke-width="2.4" />
<path d="M657,1027.8 H662.4 Q664.2,1027.8 664.2,1029.6 V1033" stroke="#1a1a1a" stroke-width="2" fill="none"/>
<line x1="630.7" y1="984.6" x2="656" y2="1012.6" stroke="#333" stroke-width="1.1" />
<polyline points="649.12,1009.06 656.7,1013.4 653.12,1005.44" stroke="#333" stroke-width="1.25" fill="none" stroke-linejoin="miter"/>
<line x1="455.2" y1="993.4" x2="455.2" y2="1090.5" stroke="#333" stroke-width="1.2" stroke-dasharray="44 2.5 2 2.5"/>
<polygon points="235.2,1071 674.3,1071 674.3,1075.2 235.2,1075.2" stroke="#222" stroke-width="1.3" fill="#fff" />
<line x1="235.2" y1="1071" x2="674.3" y2="1071" stroke="#1a1a1a" stroke-width="1.9" />
<polygon points="223.4,1075.2 687.3,1075.2 686,1081 224.8,1081" stroke="#222" stroke-width="1.4" fill="#fff" />
<polygon points="227.2,1081 682.7,1081 682.2,1084.2 227.8,1084.2" stroke="#333" stroke-width="1.2" fill="#bdbdbd" />
<line x1="225" y1="1081" x2="686" y2="1081" stroke="#1a1a1a" stroke-width="1.7" />
<line x1="227.6" y1="1084.3" x2="682.4" y2="1084.3" stroke="#222" stroke-width="1.2" />
<line x1="273" y1="1074.9" x2="279" y2="1074.9" stroke="#1a1a1a" stroke-width="1.8" />
<line x1="396" y1="1074.9" x2="402" y2="1074.9" stroke="#1a1a1a" stroke-width="1.8" />
<line x1="510" y1="1074.9" x2="516" y2="1074.9" stroke="#1a1a1a" stroke-width="1.8" />
<line x1="629" y1="1074.9" x2="635" y2="1074.9" stroke="#1a1a1a" stroke-width="1.8" />
<rect x="198" y="1070.4" width="34.69999999999999" height="4.5" fill="#2a2a2a"/>
<polygon points="201.6,1071.4 203.39999999999998,1071.4 202.0,1074 200.2,1074" fill="#f2f2f2"/>
<polygon points="205.79999999999998,1071.4 207.59999999999997,1071.4 206.2,1074 204.39999999999998,1074" fill="#f2f2f2"/>
<polygon points="210.0,1071.4 211.79999999999998,1071.4 210.4,1074 208.6,1074" fill="#f2f2f2"/>
<polygon points="214.2,1071.4 215.99999999999997,1071.4 214.6,1074 212.79999999999998,1074" fill="#f2f2f2"/>
<polygon points="218.4,1071.4 220.2,1071.4 218.8,1074 217.0,1074" fill="#f2f2f2"/>
<polygon points="222.6,1071.4 224.39999999999998,1071.4 223.0,1074 221.2,1074" fill="#f2f2f2"/>
<polygon points="226.79999999999998,1071.4 228.59999999999997,1071.4 227.2,1074 225.39999999999998,1074" fill="#f2f2f2"/>
<rect x="677.1" y="1070.4" width="34.0" height="4.5" fill="#2a2a2a"/>
<polygon points="680.7,1071.4 682.5000000000001,1071.4 681.1,1074 679.3000000000001,1074" fill="#f2f2f2"/>
<polygon points="684.9000000000001,1071.4 686.7000000000002,1071.4 685.3000000000001,1074 683.5000000000001,1074" fill="#f2f2f2"/>
<polygon points="689.1,1071.4 690.9000000000001,1071.4 689.5,1074 687.7,1074" fill="#f2f2f2"/>
<polygon points="693.3000000000001,1071.4 695.1000000000001,1071.4 693.7,1074 691.9000000000001,1074" fill="#f2f2f2"/>
<polygon points="697.5,1071.4 699.3000000000001,1071.4 697.9,1074 696.1,1074" fill="#f2f2f2"/>
<polygon points="701.7,1071.4 703.5000000000001,1071.4 702.1,1074 700.3000000000001,1074" fill="#f2f2f2"/>
<polygon points="705.9000000000001,1071.4 707.7000000000002,1071.4 706.3000000000001,1074 704.5000000000001,1074" fill="#f2f2f2"/>
<line x1="194.3" y1="1098.3" x2="214.2" y2="1076.2" stroke="#333" stroke-width="1.1" />
<polyline points="211.25,1083.47 214.8,1075.5 207.24,1079.86" stroke="#333" stroke-width="1.25" fill="none" stroke-linejoin="miter"/>
<line x1="685.5" y1="1100" x2="695.8" y2="1076.6" stroke="#333" stroke-width="1.1" />
<polyline points="695.32,1084.38 696.2,1075.7 690.38,1082.2" stroke="#333" stroke-width="1.25" fill="none" stroke-linejoin="miter"/>
<line x1="551.4" y1="1103.8" x2="536.6" y2="1085.4" stroke="#333" stroke-width="1.1" />
<polyline points="543.52,1089.65 536.2,1084.9 539.33,1093.05" stroke="#333" stroke-width="1.25" fill="none" stroke-linejoin="miter"/>
</svg>
</body></html>
